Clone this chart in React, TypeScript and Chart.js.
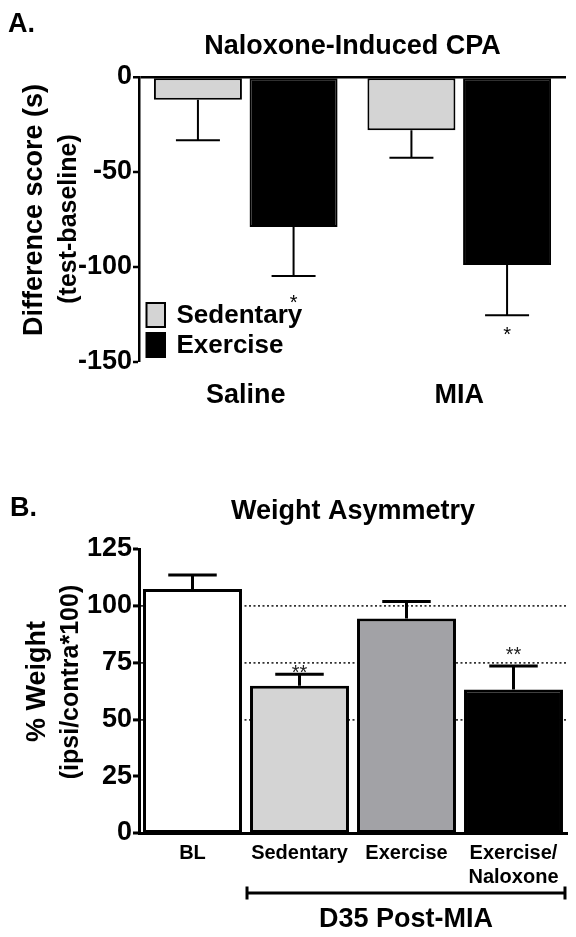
import React, { useEffect, useRef } from 'react';
import { Chart, registerables } from 'chart.js';

Chart.register(...registerables);

const FONT = '"Liberation Sans", Arial, Helvetica, sans-serif';

// ---------- Panel A: Naloxone-Induced CPA ----------
const cpaTitle = 'Naloxone-Induced CPA';
const cpaYTitle = ['Difference score (s)', '(test-baseline)'];
const cpaGroups = ['Saline', 'MIA'];
const cpaSeries = ['Sedentary', 'Exercise'];
const cpaSedentary = [-12, -28];
const cpaExercise = [-79, -99];
const cpaSedentarySem = [21.3, 14.5];
const cpaExerciseSem = [25.8, 26.4];
const cpaSedentarySig = ['', ''];
const cpaExerciseSig = ['*', '*'];
const cpaExerciseSigAt = [-122, -139];
const cpaMin = -150;
const cpaMax = 0;
const cpaStep = 50;

// ---------- Panel B: Weight Asymmetry ----------
const waTitle = 'Weight Asymmetry';
const waYTitle = ['% Weight', '(ipsi/contra*100)'];
const waGroups: (string | string[])[] = ['BL', 'Sedentary', 'Exercise', ['Exercise/', 'Naloxone']];
const waValues = [107.4, 64.8, 94.4, 63.2];
const waSem = [6.2, 5.1, 7.5, 10.3];
const waSig = ['', '**', '', '**'];
const waSigAt = [0, 68, 0, 75.6];
const waColors = ['#ffffff', '#d4d4d4', '#a2a2a6', '#000000'];
const waRefLines = [50, 75, 100];
const waMin = 0;
const waMax = 125;
const waStep = 25;
const waBracketLabel = 'D35 Post-MIA';
const waBracketFrom = 1;
const waBracketTo = 3;

const CLEAR = 'rgba(0,0,0,0)';

function errorBarsPlugin(lineWidth: number, capRatio: number) {
  return {
    id: 'errorBars',
    afterDatasetsDraw(chart: any) {
      const { ctx } = chart;
      const ys = chart.scales.y;
      ctx.save();
      ctx.strokeStyle = '#000';
      ctx.lineWidth = lineWidth;
      ctx.lineCap = 'butt';
      chart.data.datasets.forEach((ds: any, di: number) => {
        const meta = chart.getDatasetMeta(di);
        meta.data.forEach((bar: any, i: number) => {
          const v = ds.data[i];
          const e = ds.errors ? ds.errors[i] : 0;
          if (!e) return;
          const end = v < 0 ? v - e : v + e;
          const y0 = ys.getPixelForValue(v);
          const y1 = ys.getPixelForValue(end);
          const half = (bar.width * capRatio) / 2;
          ctx.beginPath();
          ctx.moveTo(bar.x, y0);
          ctx.lineTo(bar.x, y1);
          ctx.moveTo(bar.x - half, y1);
          ctx.lineTo(bar.x + half, y1);
          ctx.stroke();
        });
      });
      ctx.restore();
    },
  };
}

function sigPlugin(size: number, color: string) {
  return {
    id: 'sigMarks',
    afterDatasetsDraw(chart: any) {
      const { ctx } = chart;
      const ys = chart.scales.y;
      ctx.save();
      ctx.fillStyle = color;
      ctx.font = `${size}px ${FONT}`;
      ctx.textAlign = 'center';
      ctx.textBaseline = 'alphabetic';
      chart.data.datasets.forEach((ds: any, di: number) => {
        if (!ds.sig) return;
        const meta = chart.getDatasetMeta(di);
        meta.data.forEach((bar: any, i: number) => {
          const s = ds.sig[i];
          if (!s) return;
          ctx.fillText(s, bar.x, ys.getPixelForValue(ds.sigAt[i]));
        });
      });
      ctx.restore();
    },
  };
}

function rotatedText(ctx: CanvasRenderingContext2D, text: string, x: number, y: number, font: string) {
  ctx.save();
  ctx.translate(x, y);
  ctx.rotate(-Math.PI / 2);
  ctx.font = font;
  ctx.textAlign = 'center';
  ctx.textBaseline = 'alphabetic';
  ctx.fillText(text, 0, 0);
  ctx.restore();
}

function makeChartA(canvas: HTMLCanvasElement) {
  const decor = {
    id: 'decorA',
    afterDraw(chart: any) {
      const { ctx, chartArea: ca } = chart;
      ctx.save();
      ctx.fillStyle = '#000';
      ctx.font = `bold 27px ${FONT}`;
      ctx.textAlign = 'left';
      ctx.textBaseline = 'alphabetic';
      ctx.fillText('A.', 8, 32);
      ctx.textAlign = 'center';
      ctx.fillText(cpaTitle, (ca.left + ca.right) / 2, 53.5);
      rotatedText(ctx, cpaYTitle[0], 41.7, 210, `bold 27px ${FONT}`);
      rotatedText(ctx, cpaYTitle[1], 76, 219, `bold 25px ${FONT}`);
      // legend
      const bx = ca.left + 7.5;
      chart.data.datasets.forEach((ds: any, i: number) => {
        const top = ca.bottom - 59 + i * 30;
        ctx.fillStyle = ds.backgroundColor;
        ctx.fillRect(bx, top, 18.5, 24);
        ctx.strokeStyle = '#000';
        ctx.lineWidth = 2;
        ctx.strokeRect(bx, top, 18.5, 24);
        ctx.fillStyle = '#000';
        ctx.font = `bold 26px ${FONT}`;
        ctx.textAlign = 'left';
        ctx.textBaseline = 'middle';
        ctx.fillText(ds.label, bx + 30, top + 13);
      });
      ctx.restore();
    },
  };
  return new Chart(canvas, {
    type: 'bar',
    data: {
      labels: cpaGroups,
      datasets: [
        {
          label: cpaSeries[0],
          data: cpaSedentary,
          errors: cpaSedentarySem,
          sig: cpaSedentarySig,
          sigAt: [0, 0],
          backgroundColor: '#d4d4d4',
          borderColor: '#000',
          borderWidth: 2,
          borderSkipped: false,
          categoryPercentage: 0.896,
          barPercentage: 0.92,
        } as any,
        {
          label: cpaSeries[1],
          data: cpaExercise,
          errors: cpaExerciseSem,
          sig: cpaExerciseSig,
          sigAt: cpaExerciseSigAt,
          backgroundColor: '#000000',
          borderColor: '#000',
          borderWidth: 2,
          borderSkipped: false,
          categoryPercentage: 0.896,
          barPercentage: 0.92,
        } as any,
      ],
    },
    options: {
      responsive: false,
      animation: false,
      devicePixelRatio: 1,
      layout: { padding: { left: 0, top: 77, right: 10, bottom: 18 } },
      plugins: { legend: { display: false }, title: { display: false }, tooltip: { enabled: false } },
      scales: {
        x: {
          grid: { display: false, drawTicks: false },
          border: { display: false },
          ticks: { color: '#000', font: { family: FONT, size: 27, weight: 'bold' }, padding: 17 },
          afterFit: (s: any) => { s.height = 60; },
        },
        y: {
          min: cpaMin,
          max: cpaMax,
          ticks: { stepSize: cpaStep, color: '#000', font: { family: FONT, size: 27, weight: 'bold' }, padding: 1 },
          grid: {
            color: (c: any) => (c.tick && c.tick.value === 0 ? '#000' : CLEAR),
            lineWidth: (c: any) => (c.tick && c.tick.value === 0 ? 2.5 : 0),
            tickColor: '#000',
            tickLength: 6,
            tickWidth: 2.5,
            drawTicks: true,
          },
          border: { display: true, color: '#000', width: 2.5 },
          afterFit: (s: any) => { s.width = 139; },
        },
      },
    } as any,
    plugins: [errorBarsPlugin(2, 0.5), sigPlugin(20, '#000'), decor],
  });
}

function makeChartB(canvas: HTMLCanvasElement) {
  const decor = {
    id: 'decorB',
    afterDraw(chart: any) {
      const { ctx, chartArea: ca } = chart;
      ctx.save();
      ctx.fillStyle = '#000';
      ctx.font = `bold 27px ${FONT}`;
      ctx.textAlign = 'left';
      ctx.textBaseline = 'alphabetic';
      ctx.fillText('B.', 10, 76);
      ctx.textAlign = 'center';
      ctx.fillText(waTitle, (ca.left + ca.right) / 2, 79);
      rotatedText(ctx, waYTitle[0], 45, 241.5, `bold 27px ${FONT}`);
      rotatedText(ctx, waYTitle[1], 78, 242, `bold 25px ${FONT}`);
      // bracket
      const meta = chart.getDatasetMeta(0);
      const b1 = meta.data[waBracketFrom] as any;
      const b3 = meta.data[waBracketTo] as any;
      const x1 = b1.x - b1.width / 2 - 3;
      const x2 = b3.x + b3.width / 2 + 2;
      const yb = ca.bottom + 60;
      ctx.strokeStyle = '#000';
      ctx.lineWidth = 3;
      ctx.beginPath();
      ctx.moveTo(x1, yb);
      ctx.lineTo(x2, yb);
      ctx.moveTo(x1, yb - 6.5);
      ctx.lineTo(x1, yb + 6.5);
      ctx.moveTo(x2, yb - 6.5);
      ctx.lineTo(x2, yb + 6.5);
      ctx.stroke();
      ctx.font = `bold 27px ${FONT}`;
      ctx.textAlign = 'center';
      ctx.fillText(waBracketLabel, (x1 + x2) / 2, yb + 34.3);
      ctx.restore();
    },
  };
  return new Chart(canvas, {
    type: 'bar',
    data: {
      labels: waGroups,
      datasets: [
        {
          label: waTitle,
          data: waValues,
          errors: waSem,
          sig: waSig,
          sigAt: waSigAt,
          backgroundColor: waColors,
          borderColor: '#000',
          borderWidth: 3,
          borderSkipped: false,
          categoryPercentage: 1,
          barPercentage: 0.925,
        } as any,
      ],
    },
    options: {
      responsive: false,
      animation: false,
      devicePixelRatio: 1,
      layout: { padding: { left: 0, top: 109, right: 9, bottom: 44 } },
      plugins: { legend: { display: false }, title: { display: false }, tooltip: { enabled: false } },
      scales: {
        x: {
          grid: { display: false, drawTicks: false },
          border: { display: true, color: '#000', width: 3 },
          ticks: { color: '#000', font: { family: FONT, size: 20, weight: 'bold' }, padding: 8, maxRotation: 0, autoSkip: false },
          afterFit: (s: any) => { s.height = 60; },
        },
        y: {
          min: waMin,
          max: waMax,
          ticks: { stepSize: waStep, color: '#000', font: { family: FONT, size: 27, weight: 'bold' }, padding: 1 },
          grid: {
            color: (c: any) => (c.tick && waRefLines.includes(c.tick.value) ? '#333' : CLEAR),
            lineWidth: (c: any) => (c.tick && waRefLines.includes(c.tick.value) ? 1.8 : 0),
            tickColor: '#000',
            tickLength: 6,
            tickWidth: 3,
            drawTicks: true,
          },
          border: {
            display: true,
            color: '#000',
            width: 3,
            dash: (c: any) => (c.tick && waRefLines.includes(c.tick.value) ? [2, 2.5] : []),
          },
          afterFit: (s: any) => { s.width = 139; },
        },
      },
    } as any,
    plugins: [errorBarsPlugin(3, 0.49), sigPlugin(20, '#222'), decor],
  });
}

export default function App() {
  const aRef = useRef<HTMLCanvasElement>(null);
  const bRef = useRef<HTMLCanvasElement>(null);
  useEffect(() => {
    const a = makeChartA(aRef.current as HTMLCanvasElement);
    const b = makeChartB(bRef.current as HTMLCanvasElement);
    return () => {
      a.destroy();
      b.destroy();
    };
  }, []);
  return (
    <div style={{ position: 'absolute', left: 0, top: 0, width: 576, height: 937, background: '#fff' }}>
      <canvas ref={aRef} width={576} height={440} style={{ display: 'block', width: 576, height: 440 }} />
      <canvas ref={bRef} width={576} height={497} style={{ display: 'block', width: 576, height: 497 }} />
    </div>
  );
}
